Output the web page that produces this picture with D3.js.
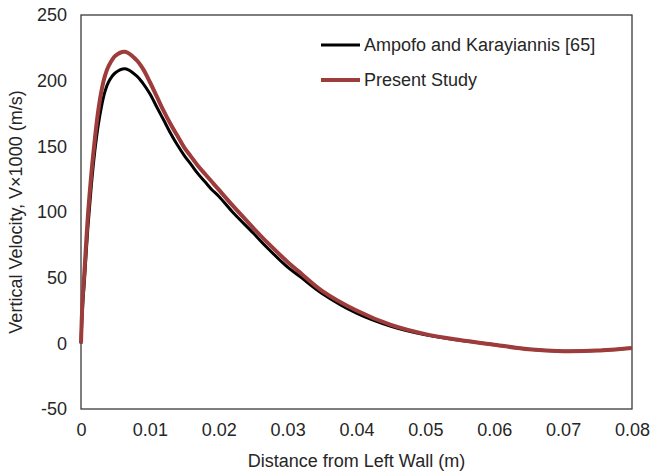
<!DOCTYPE html>
<html>
<head>
<meta charset="utf-8">
<script src="https://cdn.jsdelivr.net/npm/d3@7"></script>
<style>
  body { margin: 0; background: #fff; }
  text { font-family: "Liberation Sans", Arial, sans-serif; fill: #262626; }
</style>
</head>
<body>
<div id="chart"></div>
<script>
// data
const xTicks = [0, 0.01, 0.02, 0.03, 0.04, 0.05, 0.06, 0.07, 0.08]
const yTicks = [-50, 0, 50, 100, 150, 200, 250]

const distX = [0, 0.0002, 0.0005, 0.001, 0.0015, 0.002, 0.0025, 0.003, 0.0035, 0.004, 0.005, 0.0064, 0.008, 0.009, 0.010, 0.011, 0.012, 0.013, 0.014, 0.015, 0.016, 0.017, 0.018, 0.019, 0.02, 0.022, 0.025, 0.027, 0.03, 0.032, 0.035, 0.04, 0.045, 0.05, 0.055, 0.06, 0.065, 0.07, 0.075, 0.08]

const ampofoY = [0, 25, 48, 88, 120, 146, 166, 181, 192, 199, 206, 209, 204, 198, 190, 180, 170, 160, 151, 143, 136, 129, 123, 117, 112, 100, 84, 73, 58, 50, 38, 23, 13, 6.5, 2.3, -1, -4.5, -6, -5.5, -3.5]

const presentY = [0, 30, 55, 97, 129, 155, 177, 193, 204, 211, 219, 222, 216, 209, 199, 188, 177, 167, 158, 149, 142, 135, 129, 123, 117, 105, 88, 77, 62, 53, 40, 25, 14, 7, 2.5, -1, -4.5, -6, -5.5, -3.5]

const seriesNames = ["Ampofo and Karayiannis [65]", "Present Study"]
const seriesColors = ["#000000", "#9e3b3b"]

const margin = {top: 15, right: 19, bottom: 66, left: 81},
    width = 651 - margin.left - margin.right,
    height = 475 - margin.top - margin.bottom;

const svg = d3.select("#chart")
    .append("svg")
    .attr("width", 651)
    .attr("height", 475)
    .append("g")
    .attr("transform", `translate(${margin.left}, ${margin.top})`);

const x = d3.scaleLinear().domain([0, 0.08]).range([0, width])
const y = d3.scaleLinear().domain([-50, 250]).range([height, 0])

// x axis labels
svg.append("g")
    .attr("transform", "translate(0," + height + ")")
    .call(d3.axisBottom(x).tickValues(xTicks).tickSize(0).tickPadding(14)
        .tickFormat(d => d === 0 ? "0" : d3.format(".2f")(d)))
    .call(g => g.select(".domain").remove())
    .selectAll("text")
    .style("font-size", "18px")
    .style("font-family", "Liberation Sans, Arial, sans-serif")
    .attr("fill", "#262626");

// y axis labels (plain hyphen for negatives, like the original)
svg.append("g")
    .call(d3.axisLeft(y).tickValues(yTicks).tickSize(0).tickPadding(14)
        .tickFormat(d => String(d)))
    .call(g => g.select(".domain").remove())
    .selectAll("text")
    .style("font-size", "18px")
    .style("font-family", "Liberation Sans, Arial, sans-serif")
    .attr("fill", "#262626");

// plot frame
svg.append("rect")
    .attr("width", width)
    .attr("height", height)
    .attr("fill", "none")
    .attr("stroke", "#3a3a3a")
    .attr("stroke-width", 1.3)

const line = d3.line()
    .x(d => x(d[0]))
    .y(d => y(d[1]))
    .curve(d3.curveCatmullRom.alpha(0.5))

const ampofo = distX.map((v, i) => [v, ampofoY[i]])
const present = distX.map((v, i) => [v, presentY[i]])

svg.append("path")
    .datum(ampofo)
    .attr("d", line)
    .attr("fill", "none")
    .attr("stroke", seriesColors[0])
    .attr("stroke-width", 3)

svg.append("path")
    .datum(present)
    .attr("d", line)
    .attr("fill", "none")
    .attr("stroke", seriesColors[1])
    .attr("stroke-width", 4)

// legend
const legend = svg.append("g")
    .attr("transform", "translate(240, 30)")
seriesNames.forEach(function(name, i) {
    legend.append("line")
        .attr("x1", 0).attr("x2", 39)
        .attr("y1", i * 35).attr("y2", i * 35)
        .attr("stroke", seriesColors[i])
        .attr("stroke-width", i === 0 ? 3 : 4)
    legend.append("text")
        .attr("x", 43)
        .attr("y", i * 35)
        .attr("dy", "0.35em")
        .style("font-size", "18px")
        .text(name)
})

// axis titles
svg.append("text")
    .attr("x", width / 2)
    .attr("y", height + 58)
    .attr("text-anchor", "middle")
    .style("font-size", "18px")
    .text("Distance from Left Wall (m)")

svg.append("text")
    .attr("transform", "rotate(-90)")
    .attr("x", -height / 2)
    .attr("y", -59)
    .attr("text-anchor", "middle")
    .style("font-size", "18px")
    .text("Vertical Velocity, V×1000 (m/s)")
</script>
</body>
</html>
